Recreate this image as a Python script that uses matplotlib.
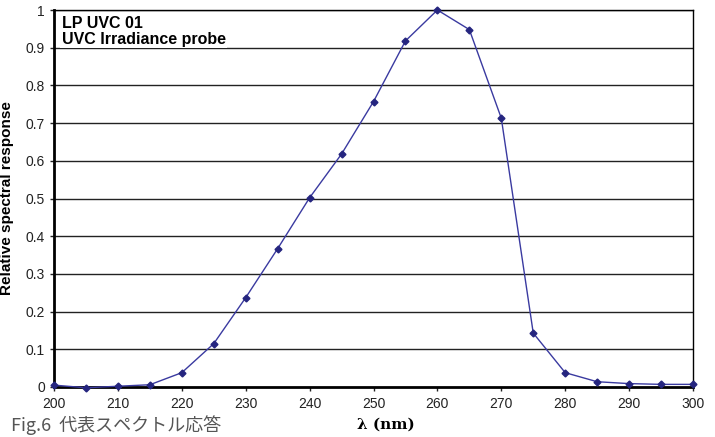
import matplotlib
matplotlib.use("Agg")
import matplotlib.pyplot as plt

plt.rcParams['font.family'] = ['Liberation Sans', 'Noto Sans CJK JP', 'DejaVu Sans']

wavelength = [200, 205, 210, 215, 220, 225, 230, 235, 240, 245, 250,
              255, 260, 265, 270, 275, 280, 285, 290, 295, 300]
response = [0.005, -0.002, 0.002, 0.006, 0.038, 0.115, 0.237, 0.367, 0.502, 0.618, 0.757,
            0.918, 1.0, 0.948, 0.713, 0.143, 0.038, 0.014, 0.009, 0.007, 0.007]
x_ticks = list(range(200, 301, 10))
y_ticks = [0, 0.1, 0.2, 0.3, 0.4, 0.5, 0.6, 0.7, 0.8, 0.9, 1]
y_labels = ["0", "0.1", "0.2", "0.3", "0.4", "0.5", "0.6", "0.7", "0.8", "0.9", "1"]

fig = plt.figure(figsize=(7.15, 4.37), dpi=100)
ax = fig.add_axes([54/715, 50/437, 639/715, 377/437])

for y in y_ticks[1:]:
    ax.axhline(y, color="#222222", lw=1.0, zorder=1)

ax.plot(wavelength, response, color="#3A3AA0", lw=1.0, marker="D", ms=3.5,
        mfc="#25257F", mec="#25257F", zorder=3, clip_on=False)

ax.set_xlim(200, 300)
ax.set_ylim(0, 1)
ax.set_xticks(x_ticks)
ax.set_yticks(y_ticks)
ax.set_yticklabels(y_labels)
ax.tick_params(axis="both", labelsize=10, colors="#222222", length=3, width=1, direction="out")
ax.tick_params(axis="x", pad=4)

ax.spines["left"].set_linewidth(2.0)
ax.spines["bottom"].set_linewidth(2.0)
ax.spines["top"].set_linewidth(1.0)
ax.spines["right"].set_linewidth(1.0)

ax.set_ylabel("Relative spectral response", fontsize=11, fontweight="bold", labelpad=8)
ax.text(0.012, 0.985, "LP UVC 01\nUVC Irradiance probe", transform=ax.transAxes,
        fontsize=11.5, fontweight="bold", va="top", ha="left", linespacing=1.1,
        bbox=dict(facecolor="white", edgecolor="none", pad=1), zorder=4)

fig.text(0.54, 0.012, "λ (nm)", fontsize=11, fontweight="bold", ha="center", va="bottom",
         family=["DejaVu Serif"])
fig.text(0.015, 0.004, "Fig.6  代表スペクトル応答", fontsize=13, color="#555555",
         ha="left", va="bottom", family=["Noto Sans CJK JP", "DejaVu Sans"])

fig.savefig("out.png", dpi=100)
